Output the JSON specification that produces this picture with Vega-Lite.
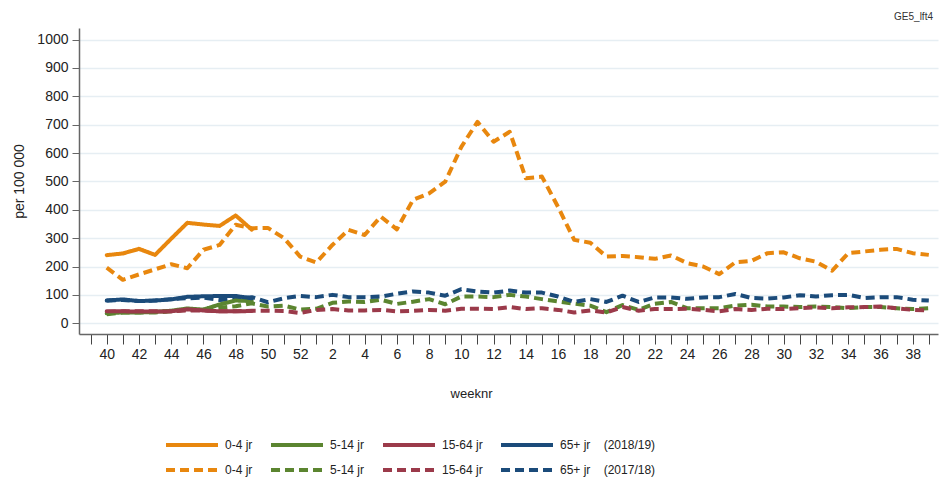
{
  "$schema": "https://vega.github.io/schema/vega-lite/v6.json",
  "width": 859,
  "height": 306,
  "autosize": "none",
  "padding": {"left": 79, "top": 28, "right": 2, "bottom": 150},
  "background": "white",
  "title": {"text": "GE5_lft4", "anchor": "end", "frame": "group", "fontSize": 10, "font": "Liberation Sans", "fontWeight": "normal", "color": "#333333", "offset": 6, "dx": -5},
  "config": {
    "view": {"stroke": null},
    "font": "Liberation Sans"
  },
  "datasets": {
    "rows": [
      {"p":0,"v":196,"s":"0-4 jr (2017/18)"},{"p":1,"v":153,"s":"0-4 jr (2017/18)"},{"p":2,"v":172,"s":"0-4 jr (2017/18)"},{"p":3,"v":190,"s":"0-4 jr (2017/18)"},{"p":4,"v":208,"s":"0-4 jr (2017/18)"},{"p":5,"v":194,"s":"0-4 jr (2017/18)"},{"p":6,"v":259,"s":"0-4 jr (2017/18)"},{"p":7,"v":276,"s":"0-4 jr (2017/18)"},{"p":8,"v":347,"s":"0-4 jr (2017/18)"},{"p":9,"v":335,"s":"0-4 jr (2017/18)"},{"p":10,"v":336,"s":"0-4 jr (2017/18)"},{"p":11,"v":300,"s":"0-4 jr (2017/18)"},{"p":12,"v":235,"s":"0-4 jr (2017/18)"},{"p":13,"v":214,"s":"0-4 jr (2017/18)"},{"p":14,"v":276,"s":"0-4 jr (2017/18)"},{"p":15,"v":329,"s":"0-4 jr (2017/18)"},{"p":16,"v":311,"s":"0-4 jr (2017/18)"},{"p":17,"v":376,"s":"0-4 jr (2017/18)"},{"p":18,"v":331,"s":"0-4 jr (2017/18)"},{"p":19,"v":435,"s":"0-4 jr (2017/18)"},{"p":20,"v":458,"s":"0-4 jr (2017/18)"},{"p":21,"v":499,"s":"0-4 jr (2017/18)"},{"p":22,"v":622,"s":"0-4 jr (2017/18)"},{"p":23,"v":710,"s":"0-4 jr (2017/18)"},{"p":24,"v":640,"s":"0-4 jr (2017/18)"},{"p":25,"v":675,"s":"0-4 jr (2017/18)"},{"p":26,"v":511,"s":"0-4 jr (2017/18)"},{"p":27,"v":517,"s":"0-4 jr (2017/18)"},{"p":28,"v":410,"s":"0-4 jr (2017/18)"},{"p":29,"v":294,"s":"0-4 jr (2017/18)"},{"p":30,"v":284,"s":"0-4 jr (2017/18)"},{"p":31,"v":235,"s":"0-4 jr (2017/18)"},{"p":32,"v":237,"s":"0-4 jr (2017/18)"},{"p":33,"v":233,"s":"0-4 jr (2017/18)"},{"p":34,"v":227,"s":"0-4 jr (2017/18)"},{"p":35,"v":239,"s":"0-4 jr (2017/18)"},{"p":36,"v":212,"s":"0-4 jr (2017/18)"},{"p":37,"v":200,"s":"0-4 jr (2017/18)"},{"p":38,"v":173,"s":"0-4 jr (2017/18)"},{"p":39,"v":215,"s":"0-4 jr (2017/18)"},{"p":40,"v":220,"s":"0-4 jr (2017/18)"},{"p":41,"v":247,"s":"0-4 jr (2017/18)"},{"p":42,"v":250,"s":"0-4 jr (2017/18)"},{"p":43,"v":229,"s":"0-4 jr (2017/18)"},{"p":44,"v":217,"s":"0-4 jr (2017/18)"},{"p":45,"v":185,"s":"0-4 jr (2017/18)"},{"p":46,"v":247,"s":"0-4 jr (2017/18)"},{"p":47,"v":253,"s":"0-4 jr (2017/18)"},{"p":48,"v":259,"s":"0-4 jr (2017/18)"},{"p":49,"v":262,"s":"0-4 jr (2017/18)"},{"p":50,"v":247,"s":"0-4 jr (2017/18)"},{"p":51,"v":241,"s":"0-4 jr (2017/18)"},

      {"p":0,"v":32,"s":"5-14 jr (2017/18)"},{"p":1,"v":38,"s":"5-14 jr (2017/18)"},{"p":2,"v":38,"s":"5-14 jr (2017/18)"},{"p":3,"v":38,"s":"5-14 jr (2017/18)"},{"p":4,"v":42,"s":"5-14 jr (2017/18)"},{"p":5,"v":48,"s":"5-14 jr (2017/18)"},{"p":6,"v":46,"s":"5-14 jr (2017/18)"},{"p":7,"v":55,"s":"5-14 jr (2017/18)"},{"p":8,"v":60,"s":"5-14 jr (2017/18)"},{"p":9,"v":70,"s":"5-14 jr (2017/18)"},{"p":10,"v":59,"s":"5-14 jr (2017/18)"},{"p":11,"v":62,"s":"5-14 jr (2017/18)"},{"p":12,"v":48,"s":"5-14 jr (2017/18)"},{"p":13,"v":51,"s":"5-14 jr (2017/18)"},{"p":14,"v":72,"s":"5-14 jr (2017/18)"},{"p":15,"v":77,"s":"5-14 jr (2017/18)"},{"p":16,"v":75,"s":"5-14 jr (2017/18)"},{"p":17,"v":83,"s":"5-14 jr (2017/18)"},{"p":18,"v":68,"s":"5-14 jr (2017/18)"},{"p":19,"v":76,"s":"5-14 jr (2017/18)"},{"p":20,"v":85,"s":"5-14 jr (2017/18)"},{"p":21,"v":67,"s":"5-14 jr (2017/18)"},{"p":22,"v":94,"s":"5-14 jr (2017/18)"},{"p":23,"v":94,"s":"5-14 jr (2017/18)"},{"p":24,"v":92,"s":"5-14 jr (2017/18)"},{"p":25,"v":100,"s":"5-14 jr (2017/18)"},{"p":26,"v":94,"s":"5-14 jr (2017/18)"},{"p":27,"v":85,"s":"5-14 jr (2017/18)"},{"p":28,"v":77,"s":"5-14 jr (2017/18)"},{"p":29,"v":69,"s":"5-14 jr (2017/18)"},{"p":30,"v":62,"s":"5-14 jr (2017/18)"},{"p":31,"v":39,"s":"5-14 jr (2017/18)"},{"p":32,"v":64,"s":"5-14 jr (2017/18)"},{"p":33,"v":47,"s":"5-14 jr (2017/18)"},{"p":34,"v":69,"s":"5-14 jr (2017/18)"},{"p":35,"v":75,"s":"5-14 jr (2017/18)"},{"p":36,"v":53,"s":"5-14 jr (2017/18)"},{"p":37,"v":53,"s":"5-14 jr (2017/18)"},{"p":38,"v":53,"s":"5-14 jr (2017/18)"},{"p":39,"v":62,"s":"5-14 jr (2017/18)"},{"p":40,"v":65,"s":"5-14 jr (2017/18)"},{"p":41,"v":59,"s":"5-14 jr (2017/18)"},{"p":42,"v":59,"s":"5-14 jr (2017/18)"},{"p":43,"v":57,"s":"5-14 jr (2017/18)"},{"p":44,"v":59,"s":"5-14 jr (2017/18)"},{"p":45,"v":57,"s":"5-14 jr (2017/18)"},{"p":46,"v":53,"s":"5-14 jr (2017/18)"},{"p":47,"v":57,"s":"5-14 jr (2017/18)"},{"p":48,"v":57,"s":"5-14 jr (2017/18)"},{"p":49,"v":53,"s":"5-14 jr (2017/18)"},{"p":50,"v":50,"s":"5-14 jr (2017/18)"},{"p":51,"v":53,"s":"5-14 jr (2017/18)"},

      {"p":0,"v":40,"s":"15-64 jr (2017/18)"},{"p":1,"v":42,"s":"15-64 jr (2017/18)"},{"p":2,"v":42,"s":"15-64 jr (2017/18)"},{"p":3,"v":42,"s":"15-64 jr (2017/18)"},{"p":4,"v":42,"s":"15-64 jr (2017/18)"},{"p":5,"v":45,"s":"15-64 jr (2017/18)"},{"p":6,"v":45,"s":"15-64 jr (2017/18)"},{"p":7,"v":42,"s":"15-64 jr (2017/18)"},{"p":8,"v":42,"s":"15-64 jr (2017/18)"},{"p":9,"v":44,"s":"15-64 jr (2017/18)"},{"p":10,"v":44,"s":"15-64 jr (2017/18)"},{"p":11,"v":43,"s":"15-64 jr (2017/18)"},{"p":12,"v":36,"s":"15-64 jr (2017/18)"},{"p":13,"v":47,"s":"15-64 jr (2017/18)"},{"p":14,"v":50,"s":"15-64 jr (2017/18)"},{"p":15,"v":45,"s":"15-64 jr (2017/18)"},{"p":16,"v":45,"s":"15-64 jr (2017/18)"},{"p":17,"v":47,"s":"15-64 jr (2017/18)"},{"p":18,"v":42,"s":"15-64 jr (2017/18)"},{"p":19,"v":44,"s":"15-64 jr (2017/18)"},{"p":20,"v":47,"s":"15-64 jr (2017/18)"},{"p":21,"v":44,"s":"15-64 jr (2017/18)"},{"p":22,"v":51,"s":"15-64 jr (2017/18)"},{"p":23,"v":51,"s":"15-64 jr (2017/18)"},{"p":24,"v":50,"s":"15-64 jr (2017/18)"},{"p":25,"v":57,"s":"15-64 jr (2017/18)"},{"p":26,"v":50,"s":"15-64 jr (2017/18)"},{"p":27,"v":53,"s":"15-64 jr (2017/18)"},{"p":28,"v":47,"s":"15-64 jr (2017/18)"},{"p":29,"v":38,"s":"15-64 jr (2017/18)"},{"p":30,"v":45,"s":"15-64 jr (2017/18)"},{"p":31,"v":38,"s":"15-64 jr (2017/18)"},{"p":32,"v":57,"s":"15-64 jr (2017/18)"},{"p":33,"v":44,"s":"15-64 jr (2017/18)"},{"p":34,"v":50,"s":"15-64 jr (2017/18)"},{"p":35,"v":50,"s":"15-64 jr (2017/18)"},{"p":36,"v":51,"s":"15-64 jr (2017/18)"},{"p":37,"v":47,"s":"15-64 jr (2017/18)"},{"p":38,"v":42,"s":"15-64 jr (2017/18)"},{"p":39,"v":50,"s":"15-64 jr (2017/18)"},{"p":40,"v":47,"s":"15-64 jr (2017/18)"},{"p":41,"v":51,"s":"15-64 jr (2017/18)"},{"p":42,"v":50,"s":"15-64 jr (2017/18)"},{"p":43,"v":53,"s":"15-64 jr (2017/18)"},{"p":44,"v":56,"s":"15-64 jr (2017/18)"},{"p":45,"v":53,"s":"15-64 jr (2017/18)"},{"p":46,"v":56,"s":"15-64 jr (2017/18)"},{"p":47,"v":57,"s":"15-64 jr (2017/18)"},{"p":48,"v":59,"s":"15-64 jr (2017/18)"},{"p":49,"v":53,"s":"15-64 jr (2017/18)"},{"p":50,"v":47,"s":"15-64 jr (2017/18)"},{"p":51,"v":45,"s":"15-64 jr (2017/18)"},

      {"p":0,"v":80,"s":"65+ jr (2017/18)"},{"p":1,"v":82,"s":"65+ jr (2017/18)"},{"p":2,"v":78,"s":"65+ jr (2017/18)"},{"p":3,"v":80,"s":"65+ jr (2017/18)"},{"p":4,"v":85,"s":"65+ jr (2017/18)"},{"p":5,"v":88,"s":"65+ jr (2017/18)"},{"p":6,"v":90,"s":"65+ jr (2017/18)"},{"p":7,"v":82,"s":"65+ jr (2017/18)"},{"p":8,"v":86,"s":"65+ jr (2017/18)"},{"p":9,"v":92,"s":"65+ jr (2017/18)"},{"p":10,"v":74,"s":"65+ jr (2017/18)"},{"p":11,"v":88,"s":"65+ jr (2017/18)"},{"p":12,"v":96,"s":"65+ jr (2017/18)"},{"p":13,"v":92,"s":"65+ jr (2017/18)"},{"p":14,"v":100,"s":"65+ jr (2017/18)"},{"p":15,"v":92,"s":"65+ jr (2017/18)"},{"p":16,"v":92,"s":"65+ jr (2017/18)"},{"p":17,"v":94,"s":"65+ jr (2017/18)"},{"p":18,"v":104,"s":"65+ jr (2017/18)"},{"p":19,"v":112,"s":"65+ jr (2017/18)"},{"p":20,"v":108,"s":"65+ jr (2017/18)"},{"p":21,"v":97,"s":"65+ jr (2017/18)"},{"p":22,"v":120,"s":"65+ jr (2017/18)"},{"p":23,"v":112,"s":"65+ jr (2017/18)"},{"p":24,"v":108,"s":"65+ jr (2017/18)"},{"p":25,"v":115,"s":"65+ jr (2017/18)"},{"p":26,"v":108,"s":"65+ jr (2017/18)"},{"p":27,"v":108,"s":"65+ jr (2017/18)"},{"p":28,"v":94,"s":"65+ jr (2017/18)"},{"p":29,"v":75,"s":"65+ jr (2017/18)"},{"p":30,"v":85,"s":"65+ jr (2017/18)"},{"p":31,"v":75,"s":"65+ jr (2017/18)"},{"p":32,"v":97,"s":"65+ jr (2017/18)"},{"p":33,"v":75,"s":"65+ jr (2017/18)"},{"p":34,"v":91,"s":"65+ jr (2017/18)"},{"p":35,"v":91,"s":"65+ jr (2017/18)"},{"p":36,"v":86,"s":"65+ jr (2017/18)"},{"p":37,"v":91,"s":"65+ jr (2017/18)"},{"p":38,"v":92,"s":"65+ jr (2017/18)"},{"p":39,"v":103,"s":"65+ jr (2017/18)"},{"p":40,"v":89,"s":"65+ jr (2017/18)"},{"p":41,"v":87,"s":"65+ jr (2017/18)"},{"p":42,"v":91,"s":"65+ jr (2017/18)"},{"p":43,"v":99,"s":"65+ jr (2017/18)"},{"p":44,"v":94,"s":"65+ jr (2017/18)"},{"p":45,"v":99,"s":"65+ jr (2017/18)"},{"p":46,"v":100,"s":"65+ jr (2017/18)"},{"p":47,"v":89,"s":"65+ jr (2017/18)"},{"p":48,"v":92,"s":"65+ jr (2017/18)"},{"p":49,"v":92,"s":"65+ jr (2017/18)"},{"p":50,"v":83,"s":"65+ jr (2017/18)"},{"p":51,"v":80,"s":"65+ jr (2017/18)"},

      {"p":0,"v":240,"s":"0-4 jr (2018/19)"},{"p":1,"v":246,"s":"0-4 jr (2018/19)"},{"p":2,"v":262,"s":"0-4 jr (2018/19)"},{"p":3,"v":241,"s":"0-4 jr (2018/19)"},{"p":4,"v":298,"s":"0-4 jr (2018/19)"},{"p":5,"v":354,"s":"0-4 jr (2018/19)"},{"p":6,"v":348,"s":"0-4 jr (2018/19)"},{"p":7,"v":343,"s":"0-4 jr (2018/19)"},{"p":8,"v":380,"s":"0-4 jr (2018/19)"},{"p":9,"v":330,"s":"0-4 jr (2018/19)"},
      {"p":0,"v":35,"s":"5-14 jr (2018/19)"},{"p":1,"v":38,"s":"5-14 jr (2018/19)"},{"p":2,"v":38,"s":"5-14 jr (2018/19)"},{"p":3,"v":40,"s":"5-14 jr (2018/19)"},{"p":4,"v":44,"s":"5-14 jr (2018/19)"},{"p":5,"v":52,"s":"5-14 jr (2018/19)"},{"p":6,"v":48,"s":"5-14 jr (2018/19)"},{"p":7,"v":66,"s":"5-14 jr (2018/19)"},{"p":8,"v":80,"s":"5-14 jr (2018/19)"},{"p":9,"v":78,"s":"5-14 jr (2018/19)"},
      {"p":0,"v":42,"s":"15-64 jr (2018/19)"},{"p":1,"v":42,"s":"15-64 jr (2018/19)"},{"p":2,"v":41,"s":"15-64 jr (2018/19)"},{"p":3,"v":41,"s":"15-64 jr (2018/19)"},{"p":4,"v":42,"s":"15-64 jr (2018/19)"},{"p":5,"v":49,"s":"15-64 jr (2018/19)"},{"p":6,"v":45,"s":"15-64 jr (2018/19)"},{"p":7,"v":42,"s":"15-64 jr (2018/19)"},{"p":8,"v":42,"s":"15-64 jr (2018/19)"},{"p":9,"v":43,"s":"15-64 jr (2018/19)"},
      {"p":0,"v":80,"s":"65+ jr (2018/19)"},{"p":1,"v":84,"s":"65+ jr (2018/19)"},{"p":2,"v":78,"s":"65+ jr (2018/19)"},{"p":3,"v":80,"s":"65+ jr (2018/19)"},{"p":4,"v":84,"s":"65+ jr (2018/19)"},{"p":5,"v":93,"s":"65+ jr (2018/19)"},{"p":6,"v":95,"s":"65+ jr (2018/19)"},{"p":7,"v":96,"s":"65+ jr (2018/19)"},{"p":8,"v":96,"s":"65+ jr (2018/19)"},{"p":9,"v":88,"s":"65+ jr (2018/19)"}
    ]
  },
  "data": {"name": "rows"},
  "encoding": {
    "x": {
      "field": "p", "type": "quantitative",
      "scale": {"domain": [-1.72, 51.57], "nice": false, "zero": false},
      "axis": {
        "values": [-1,0,1,2,3,4,5,6,7,8,9,10,11,12,13,14,15,16,17,18,19,20,21,22,23,24,25,26,27,28,29,30,31,32,33,34,35,36,37,38,39,40,41,42,43,44,45,46,47,48,49,50,51],
        "labelExpr": "datum.value < 0 || datum.value % 2 != 0 ? '' : (datum.value <= 12 ? datum.value + 40 : datum.value - 12)",
        "labelOverlap": false, "labelFlush": false,
        "grid": false,
        "tickSize": 10, "tickColor": "#444444", "tickWidth": 1,
        "domainColor": "#666666", "domainWidth": 1.5,
        "labelFont": "Liberation Sans", "labelFontSize": 14, "labelColor": "#222222", "labelPadding": 3,
        "title": "weeknr", "titleFont": "Liberation Sans", "titleFontSize": 13, "titleFontWeight": "normal", "titleColor": "#222222", "titlePadding": 26, "titleX": 392
      }
    },
    "y": {
      "field": "v", "type": "quantitative",
      "scale": {"domain": [-38, 1041], "nice": false, "zero": false},
      "axis": {
        "values": [0,100,200,300,400,500,600,700,800,900,1000],
        "format": "d",
        "grid": true, "gridColor": "#e6eef3", "gridWidth": 1.5,
        "tickSize": 7, "tickColor": "#666666",
        "domainColor": "#666666", "domainWidth": 1.5,
        "labelFont": "Liberation Sans", "labelFontSize": 14, "labelColor": "#222222", "labelPadding": 4,
        "title": "per 100 000", "titleFont": "Liberation Sans", "titleFontSize": 14, "titleFontWeight": "normal", "titleColor": "#222222", "titlePadding": 10
      }
    },
    "color": {
      "field": "s", "type": "nominal",
      "scale": {
        "domain": ["0-4 jr (2018/19)","5-14 jr (2018/19)","15-64 jr (2018/19)","65+ jr (2018/19)","0-4 jr (2017/18)","5-14 jr (2017/18)","15-64 jr (2017/18)","65+ jr (2017/18)"],
        "range": ["#e8870e","#5b8530","#9b3a4a","#1b4b7a","#e8870e","#5b8530","#9b3a4a","#1b4b7a"]
      },
      "legend": {
        "orient": "none", "legendX": 85, "legendY": 410, "columns": 4, "direction": "horizontal", "title": null,
        "symbolType": "M-1,0H9.4", "symbolSize": 100, "symbolFillColor": "transparent", "labelFont": "Liberation Sans", "labelFontSize": 12, "labelColor": "#222222",
        "labelOffset": 47, "columnPadding": 10, "rowPadding": 9,
        "labelExpr": "indexof(datum.label, '65+') == 0 ? replace(datum.label, ' (', '\u00a0\u00a0\u00a0\u00a0(') : split(datum.label, ' (')[0]"
      }
    },
    "strokeDash": {
      "field": "s", "type": "nominal",
      "scale": {
        "domain": ["0-4 jr (2018/19)","5-14 jr (2018/19)","15-64 jr (2018/19)","65+ jr (2018/19)","0-4 jr (2017/18)","5-14 jr (2017/18)","15-64 jr (2017/18)","65+ jr (2017/18)"],
        "range": [[1,0],[1,0],[1,0],[1,0],[9,5],[9,5],[9,5],[9,5]]
      }
    },
    "strokeWidth": {
      "field": "s", "type": "nominal",
      "scale": {
        "domain": ["0-4 jr (2018/19)","5-14 jr (2018/19)","15-64 jr (2018/19)","65+ jr (2018/19)","0-4 jr (2017/18)","5-14 jr (2017/18)","15-64 jr (2017/18)","65+ jr (2017/18)"],
        "range": [4,4,4,4,2,2,2,2]
      }
    }
  },
  "layer": [
    {"transform": [{"filter": "indexof(datum.s, '2017/18') >= 0"}], "mark": {"type": "line", "strokeCap": "butt", "strokeJoin": "round"}},
    {"transform": [{"filter": "indexof(datum.s, '2018/19') >= 0"}], "mark": {"type": "line", "strokeCap": "round", "strokeJoin": "round"}}
  ]
}
